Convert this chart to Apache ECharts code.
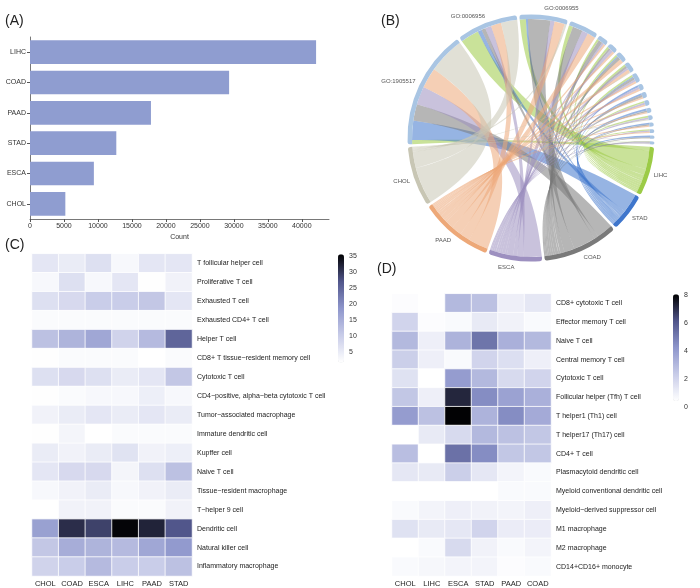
<!DOCTYPE html>
<html><head><meta charset="utf-8">
<script src="https://cdn.jsdelivr.net/npm/echarts@6/dist/echarts.min.js"></script>
<style>html,body{margin:0;padding:0;background:#fff}#c{width:700px;height:588px}</style>
</head><body><div id="c"></div>
<script>
// ---------- Panel A data ----------
const barCats = ['LIHC','COAD','PAAD','STAD','ESCA','CHOL'];
const barCounts = [42100, 29300, 17800, 12700, 9400, 5200];
const barTicks = [0,5000,10000,15000,20000,25000,30000,35000,40000];

// ---------- Panel B data ----------
const chordCancers = ['LIHC','STAD','COAD','ESCA','PAAD','CHOL'];
const chordCancerColors = ['#9ccb46','#3f76cc','#7a7a7a','#9d90c0','#eda878','#c8c6b4'];
const chordGoTerms = ['GO:1905517','GO:0006956','GO:0006955','GO term 4','GO term 5','GO term 6','GO term 7','GO term 8','GO term 9','GO term 10','GO term 11','GO term 12','GO term 13','GO term 14','GO term 15','GO term 16','GO term 17','GO term 18'];
const chordGoLabelled = ['GO:1905517','GO:0006956','GO:0006955'];
// rows: GO terms; columns: LIHC, STAD, COAD, ESCA, PAAD, CHOL
const chordMatrix = [
  [2, 9.5, 8, 9, 10, 18],
  [9, 2, 2, 3, 5, 8],
  [3, 1, 11, 2, 5, 1],
  [2, 0, 5, 3, 4, 0],
  [1, 0, 2, 1, 1, 0],
  [1, 0, 1, 1.5, 1, 0],
  [1, 0.5, 1.5, 0, 2, 0],
  [1, 0, 1, 1, 1.5, 0.5],
  [1, 0.5, 1, 1, 1, 0],
  [0, 1, 0, 1, 1, 0],
  [0, 1, 1, 0, 0.8, 0],
  [0.8, 0, 0, 1, 0.8, 0],
  [0, 1, 0.7, 0, 0.7, 0],
  [0.8, 0, 0, 0.9, 0, 0.5],
  [0, 0.7, 0.7, 0, 0.6, 0],
  [0.6, 0, 0, 0.6, 0.6, 0],
  [0, 0.8, 0.5, 0, 0, 0.3],
  [0.1, 0, 0.6, 0.5, 0, 0.2]
];

// ---------- Panel C data ----------
const cCols = ['CHOL','COAD','ESCA','LIHC','PAAD','STAD'];
const cRows = ['T follicular helper cell','Proliferative T cell','Exhausted T cell','Exhausted CD4+ T cell','Helper T cell','CD8+ T tissue\u2212resident memory cell','Cytotoxic T cell','CD4\u2212positive, alpha\u2212beta cytotoxic T cell','Tumor\u2212associated macrophage','Immature dendritic cell','Kupffer cell','Naive T cell','Tissue\u2212resident macrophage','T\u2212helper 9 cell','Dendritic cell','Natural killer cell','Inflammatory macrophage'];
const cValues = [
  [6, 5, 7, 3, 6, 6],
  [3, 7, 3, 6, 2, 4],
  [7, 8, 10, 10, 11, 6],
  [2.5, 2.5, 2.5, 2.5, 2.5, 2.5],
  [12, 14, 16, 9, 13, 25],
  [2, 2.5, 2.5, 2.5, 1.8, 2.5],
  [7, 8, 7, 5, 6, 11],
  [2, 2.5, 3, 3, 4.5, 3],
  [4, 5, 6, 5, 6, 5],
  [2, 3.5, 1.8, 2.5, 2.5, 2.5],
  [5, 4, 5, 6.5, 4, 4.5],
  [6, 8, 8, 3.5, 7, 12],
  [3, 4, 5, 3, 4, 5],
  [1.8, 4, 4, 2.5, 2.5, 4],
  [17, 31, 29, 35, 32, 27],
  [11, 15, 14, 13, 16, 18],
  [9, 10, 13, 10, 10, 12]
];
const cTicks = [5,10,15,20,25,30,35];

// ---------- Panel D data ----------
const dCols = ['CHOL','LIHC','ESCA','STAD','PAAD','COAD'];
const dRows = ['CD8+ cytotoxic T cell','Effector memory T cell','Naive T cell','Central memory T cell','Cytotoxic T cell','Follicular helper (Tfh) T cell','T helper1 (Th1) cell','T helper17 (Th17) cell','CD4+ T cell','Plasmacytoid dendritic cell','Myeloid conventional dendritic cell','Myeloid\u2212derived suppressor cell','M1 macrophage','M2 macrophage','CD14+CD16+ monocyte'];
const dValues = [
  [0.5, 0.2, 3, 2.7, 1, 1.3],
  [2, 0.5, 0.6, 1.2, 0.9, 0.6],
  [3, 1, 3.2, 5.2, 3.3, 3],
  [2.2, 1, 0.6, 2, 1.6, 1],
  [1.5, 0.1, 4, 3, 1.8, 2],
  [2.5, 1, 7.2, 4.5, 3.8, 3.3],
  [4, 2.7, 8, 3.2, 4.5, 3.5],
  [0.3, 1.2, 1.8, 3, 2.7, 2.5],
  [2.8, 0.3, 5.3, 4.5, 2.5, 2.5],
  [1.3, 1.2, 2.2, 1.3, 0.8, 0.6],
  [0.1, 0.1, 0.3, 0.1, 0.6, 0.6],
  [0.6, 0.8, 1, 0.9, 0.8, 1],
  [1.5, 1.2, 1.3, 2, 1.1, 1.1],
  [0.2, 0.6, 1.8, 0.9, 0.6, 0.8],
  [0.6, 0.7, 0.8, 0.8, 0.5, 0.6]
];
const dTicks = [0,2,4,6,8];

const heatColors = ['#ffffff','#c8cce8','#8e96cc','#50558a','#000000'];
const FONT = 'Liberation Sans, Arial, sans-serif';

function toCells(mat){ const out=[]; mat.forEach((row,r)=>row.forEach((v,c)=>out.push([c,r,v]))); return out; }

const chordNodes = [];
chordGoTerms.forEach(n => chordNodes.push({name:n, itemStyle:{color:'#a9c5e3'}, label:{show: chordGoLabelled.indexOf(n) >= 0}}));
chordCancers.forEach((n,i) => chordNodes.push({name:n, itemStyle:{color:chordCancerColors[i]}, label:{show:true}}));
const chordLinks = [];
chordMatrix.forEach((row,g)=>row.forEach((v,c)=>{ if(v>0) chordLinks.push({source:chordCancers[c], target:chordGoTerms[g], value:v}); }));

const chart = echarts.init(document.getElementById('c'), null, {renderer:'canvas'});
const plain = v => String(v);
const option = {
  backgroundColor:'#fff',
  animation:false,
  textStyle:{fontFamily:FONT},
  graphic:[
    {type:'text', left:5, top:14, style:{text:'(A)', font:'14px '+FONT, fill:'#222'}},
    {type:'text', left:381, top:14, style:{text:'(B)', font:'14px '+FONT, fill:'#222'}},
    {type:'text', left:5, top:238, style:{text:'(C)', font:'14px '+FONT, fill:'#222'}},
    {type:'text', left:377, top:262, style:{text:'(D)', font:'14px '+FONT, fill:'#222'}}
  ],
  grid:[
    {left:30, top:37, width:299, height:182},
    {left:32, top:253.8, width:160, height:324},
    {left:392, top:293.8, width:159, height:284.7},
    {left:338, top:256, width:6, height:96.3},
    {left:673, top:295, width:6, height:111.7}
  ],
  xAxis:[
    {gridIndex:0, type:'value', min:0, max:44000, name:'Count', nameLocation:'middle', nameGap:15,
     nameTextStyle:{fontSize:7, color:'#333'},
     axisLine:{show:true, lineStyle:{color:'#555', width:0.8}},
     axisTick:{show:true, length:3, lineStyle:{color:'#555'}, customValues:barTicks},
     axisLabel:{fontSize:7, color:'#333', margin:4, customValues:barTicks, formatter:plain},
     splitLine:{show:false}},
    {gridIndex:1, type:'category', data:cCols, axisLine:{show:false}, axisTick:{show:false},
     axisLabel:{fontSize:7.5, color:'#222', margin:4, interval:0}},
    {gridIndex:2, type:'category', data:dCols, axisLine:{show:false}, axisTick:{show:false},
     axisLabel:{fontSize:7.5, color:'#222', margin:4, interval:0}},
    {gridIndex:3, type:'value', show:false, min:0, max:1},
    {gridIndex:4, type:'value', show:false, min:0, max:1}
  ],
  yAxis:[
    {gridIndex:0, type:'category', data:barCats, inverse:true,
     axisLine:{show:true, lineStyle:{color:'#555', width:0.8}},
     axisTick:{show:true, length:3, alignWithLabel:true, lineStyle:{color:'#555'}},
     axisLabel:{fontSize:7, color:'#333', margin:4}},
    {gridIndex:1, type:'category', data:cRows, inverse:true, position:'right',
     axisLine:{show:false}, axisTick:{show:false},
     axisLabel:{fontSize:7, color:'#222', margin:5, interval:0}},
    {gridIndex:2, type:'category', data:dRows, inverse:true, position:'right',
     axisLine:{show:false}, axisTick:{show:false},
     axisLabel:{fontSize:7, color:'#222', margin:5, interval:0}},
    {gridIndex:3, type:'value', position:'right', min:5, max:35,
     axisLine:{show:false}, axisTick:{show:false}, splitLine:{show:false},
     axisLabel:{fontSize:7, color:'#333', margin:5, customValues:cTicks}},
    {gridIndex:4, type:'value', position:'right', min:0, max:8,
     axisLine:{show:false}, axisTick:{show:false}, splitLine:{show:false},
     axisLabel:{fontSize:7, color:'#333', margin:5, customValues:dTicks}}
  ],
  visualMap:[
    {type:'continuous', seriesIndex:2, min:1.8, max:35.5, left:338, top:254.3, padding:0,
     itemWidth:6, itemHeight:108.2, calculable:false, text:null, showLabel:false,
     inRange:{color:heatColors}},
    {type:'continuous', seriesIndex:3, min:0.4, max:8.05, left:673, top:294.3, padding:0,
     itemWidth:6, itemHeight:106.8, calculable:false, text:null, showLabel:false,
     inRange:{color:heatColors}}
  ],
  series:[
    {type:'bar', xAxisIndex:0, yAxisIndex:0, data:barCounts, barCategoryGap:'22%',
     itemStyle:{color:'#8f9dd0'}},
    {type:'chord', center:[531,138], radius:[119,123.5], startAngle:183, clockwise:true,
     padAngle:1.2, minAngle:0,
     label:{show:true, position:'outside', distance:4, fontSize:6, color:'#555', fontFamily:FONT, rotate:'tangential'},
     lineStyle:{color:'source', opacity:0.55},
     itemStyle:{borderWidth:0},
     data:chordNodes, links:chordLinks},
    {type:'heatmap', xAxisIndex:1, yAxisIndex:1, data:toCells(cValues),
     itemStyle:{borderColor:'#fff', borderWidth:0.8}},
    {type:'heatmap', xAxisIndex:2, yAxisIndex:2, data:toCells(dValues),
     itemStyle:{borderColor:'#fff', borderWidth:0.8}},
    {type:'scatter', xAxisIndex:3, yAxisIndex:3, data:[]},
    {type:'scatter', xAxisIndex:4, yAxisIndex:4, data:[]}
  ]
};
chart.setOption(option);
</script>
</body></html>
